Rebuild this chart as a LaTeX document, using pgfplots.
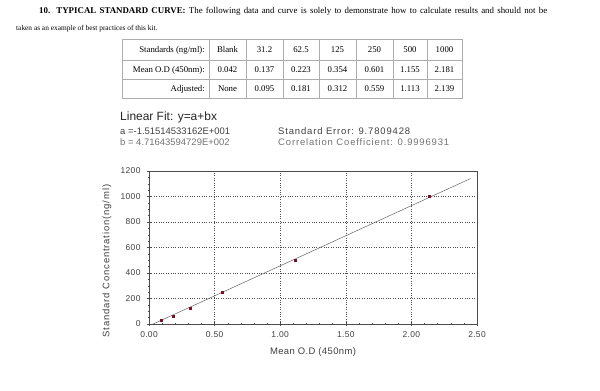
\documentclass[border=0pt]{standalone}
\usepackage{fontspec}
\setmainfont{Liberation Serif}
\newfontfamily\arial{Liberation Sans}
\newfontfamily\arialsp[LetterSpace=9]{Liberation Sans}
\newfontfamily\arialsq[LetterSpace=4]{Liberation Sans}
\usepackage{pgfplots}
\pgfplotsset{compat=1.18}
\definecolor{txtgray}{gray}{0.25}
\definecolor{ltgray}{gray}{0.45}
\definecolor{ptred}{rgb}{0.5,0.05,0.15}
\begin{document}
\begin{tikzpicture}
\useasboundingbox (0,0) rectangle (600bp,391bp);
% heading
\node[anchor=base west,inner sep=0,font=\fontsize{8.9}{9}\selectfont] at (39bp,377bp)
  {\makebox[508bp][s]{\textbf{10. TYPICAL STANDARD CURVE:} The following data and curve is solely to demonstrate how to calculate results and should not be}};
\node[anchor=base west,inner sep=0,font=\fontsize{7.4}{8}\selectfont] at (16bp,360.5bp)
  {taken as an example of best practices of this kit.};
% table
\begin{scope}[draw=gray!65,line width=0.5bp]
\draw (122bp,352bp) rectangle (462bp,293bp);
\draw (122bp,331bp) -- (462bp,331bp);
\draw (122bp,312bp) -- (462bp,312bp);
\foreach \xx in {209,246,283,319,356,393,427} {\draw (\xx bp,352bp) -- (\xx bp,293bp);}
\end{scope}
\begin{scope}[every node/.style={anchor=base,inner sep=0,font=\fontsize{8.8}{9}\selectfont}]
\node[anchor=base east] at (205bp,338.5bp) {Standards (ng/ml):};
\node[anchor=base east] at (205bp,318.5bp) {Mean O.D (450nm):};
\node[anchor=base east] at (205bp,299.5bp) {Adjusted:};
\foreach \cx/\a/\b/\c in {227.5/Blank/0.042/None, 264.5/31.2/0.137/0.095, 301/62.5/0.223/0.181, 337.5/125/0.354/0.312, 374.5/250/0.601/0.559, 410/500/1.155/1.113, 444.5/1000/2.181/2.139}
{\node at (\cx bp,338.5bp) {\a}; \node at (\cx bp,318.5bp) {\b}; \node at (\cx bp,299.5bp) {\c};}
\end{scope}
% fit text
\node[anchor=base west,inner sep=0,font=\arial\fontsize{12}{13}\selectfont,text=black!85] at (120bp,270.5bp) {Linear Fit: y=a+bx};
\node[anchor=base west,inner sep=0,font=\arial\fontsize{9.5}{10}\selectfont,text=txtgray] at (120bp,256.5bp) {a =-1.51514533162E+001};
\node[anchor=base west,inner sep=0,font=\arial\fontsize{9.5}{10}\selectfont,text=ltgray] at (120bp,245bp) {b = 4.71643594729E+002};
\node[anchor=base west,inner sep=0,font=\arialsp\fontsize{9.5}{10}\selectfont,text=txtgray] at (278bp,256.5bp) {Standard Error: 9.7809428};
\node[anchor=base west,inner sep=0,font=\arialsp\fontsize{9.5}{10}\selectfont,text=ltgray] at (278bp,245bp) {Correlation Coefficient: 0.9996931};
% axis
\begin{axis}[
  at={(149bp,67bp)}, anchor=south west,
  scale only axis, width=328bp, height=153bp,
  xmin=0, xmax=2.5, ymin=0, ymax=1200,
  xtick={0,0.5,1,1.5,2,2.5}, ytick={0,200,400,600,800,1000,1200},
  minor x tick num=4, minor y tick num=3,
  tick pos=left, tick align=center,
  major tick length=4bp, minor tick length=2bp,
  every tick/.style={black!70, line width=0.4bp},
  axis line style={black!70, line width=0.6bp},
  grid=major, major grid style={dotted, gray!60!black, line width=0.5bp},
  xticklabel style={/pgf/number format/.cd, fixed, fixed zerofill, precision=2},
  yticklabel style={/pgf/number format/.cd, set thousands separator={}},
  /pgf/number format/assume math mode=true,
  ticklabel style={font=\arialsq\fontsize{8.5}{9}\selectfont, text=txtgray},
  xticklabel shift=2bp, yticklabel shift=3bp,
]
\addplot[gray!80!black, line width=0.5bp] coordinates {(0.032,0) (2.45,1140.4)};
\addplot[only marks, mark=square*, mark size=1bp, ptred] coordinates {
  (0.095,31.2) (0.181,62.5) (0.312,125) (0.559,250) (1.113,500) (2.139,1000)};
\end{axis}
\node[font=\arialsq\fontsize{9.5}{10}\selectfont,text=txtgray] at (313bp,39bp) {Mean O.D (450nm)};
\node[rotate=90,font=\arialsp\fontsize{9.5}{10}\selectfont,text=txtgray] at (107bp,130bp) {Standard Concentration(ng/ml)};
\end{tikzpicture}
\end{document}
